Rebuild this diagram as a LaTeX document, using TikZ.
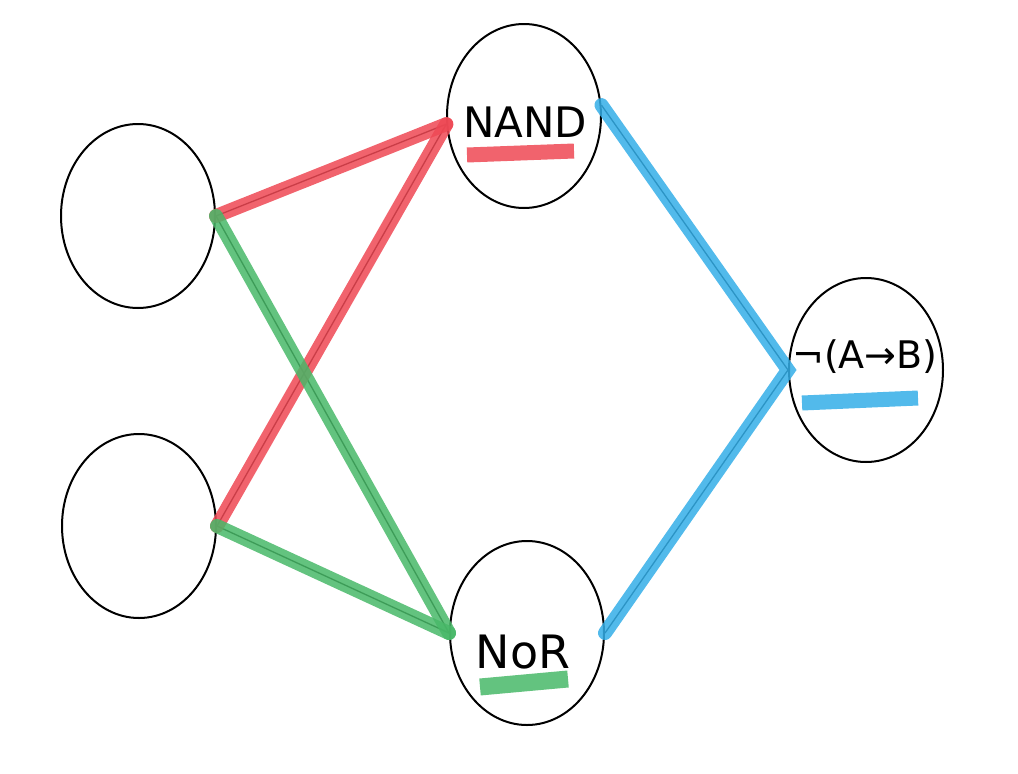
\documentclass[tikz,border=0pt]{standalone}
\usepackage{fontspec}
\setmainfont{DejaVu Sans}
\usetikzlibrary{shapes.geometric}
\definecolor{nandred}{RGB}{238,72,84}
\definecolor{norgreen}{RGB}{72,184,104}
\definecolor{outblue}{RGB}{52,174,232}

\begin{document}
\begin{tikzpicture}[x=1pt, y=-1pt,
    unit/.style={draw, ellipse, line width=2pt, minimum width=154pt, minimum height=184pt, inner sep=0pt},
    wire/.style={line width=1.3pt},
    marker/.style={line width=14pt, opacity=0.85, line cap=round},
    label/.style={inner sep=0pt}]
  \useasboundingbox (0,0) rectangle (1018,774);
  % neurons
  \node[unit] (in1) at (138,216) {};
  \node[unit] (in2) at (139,526) {};
  \node[unit] (nand) at (524,116) {};
  \node[unit] (nor) at (527,633) {};
  \node[unit] (out) at (866,370) {};
  \node[label, font=\fontsize{42}{42}\selectfont] (nandtxt) at (525,122) {NAND};
  \node[label, font=\fontsize{46}{46}\selectfont] (nortxt) at (523,652) {NoR};
  \node[label, font=\fontsize{38}{38}\selectfont] (outtxt) at (865,357) {¬(A→B)};
  % connections
  \foreach \a/\b in {in1/nand.186, in2/nand.186, in1/nor.west, in2/nor.west}
    \draw[wire] (\a.east) -- (\b);
  \draw[wire] (nand.8) -- (out.west);
  \draw[wire] (nor.east) -- (out.west);
  % highlights
  \draw[marker, nandred] (nand.186) -- (in1.east);
  \draw[marker, nandred] (nand.186) -- (in2.east);
  \draw[marker, norgreen] (nor.west) -- (in1.east);
  \draw[marker, norgreen] (nor.west) -- (in2.east);
  \draw[marker, outblue] (nand.8) -- (out.west) -- (nor.east);
  \draw[marker, nandred, line width=15pt, line cap=butt] (467,155) -- (574,151);
  \draw[marker, norgreen, line width=17pt, line cap=butt] (480,687) -- (568,679);
  \draw[marker, outblue, line width=15pt, line cap=butt] (802,403) -- (918,398);
\end{tikzpicture}
\end{document}
